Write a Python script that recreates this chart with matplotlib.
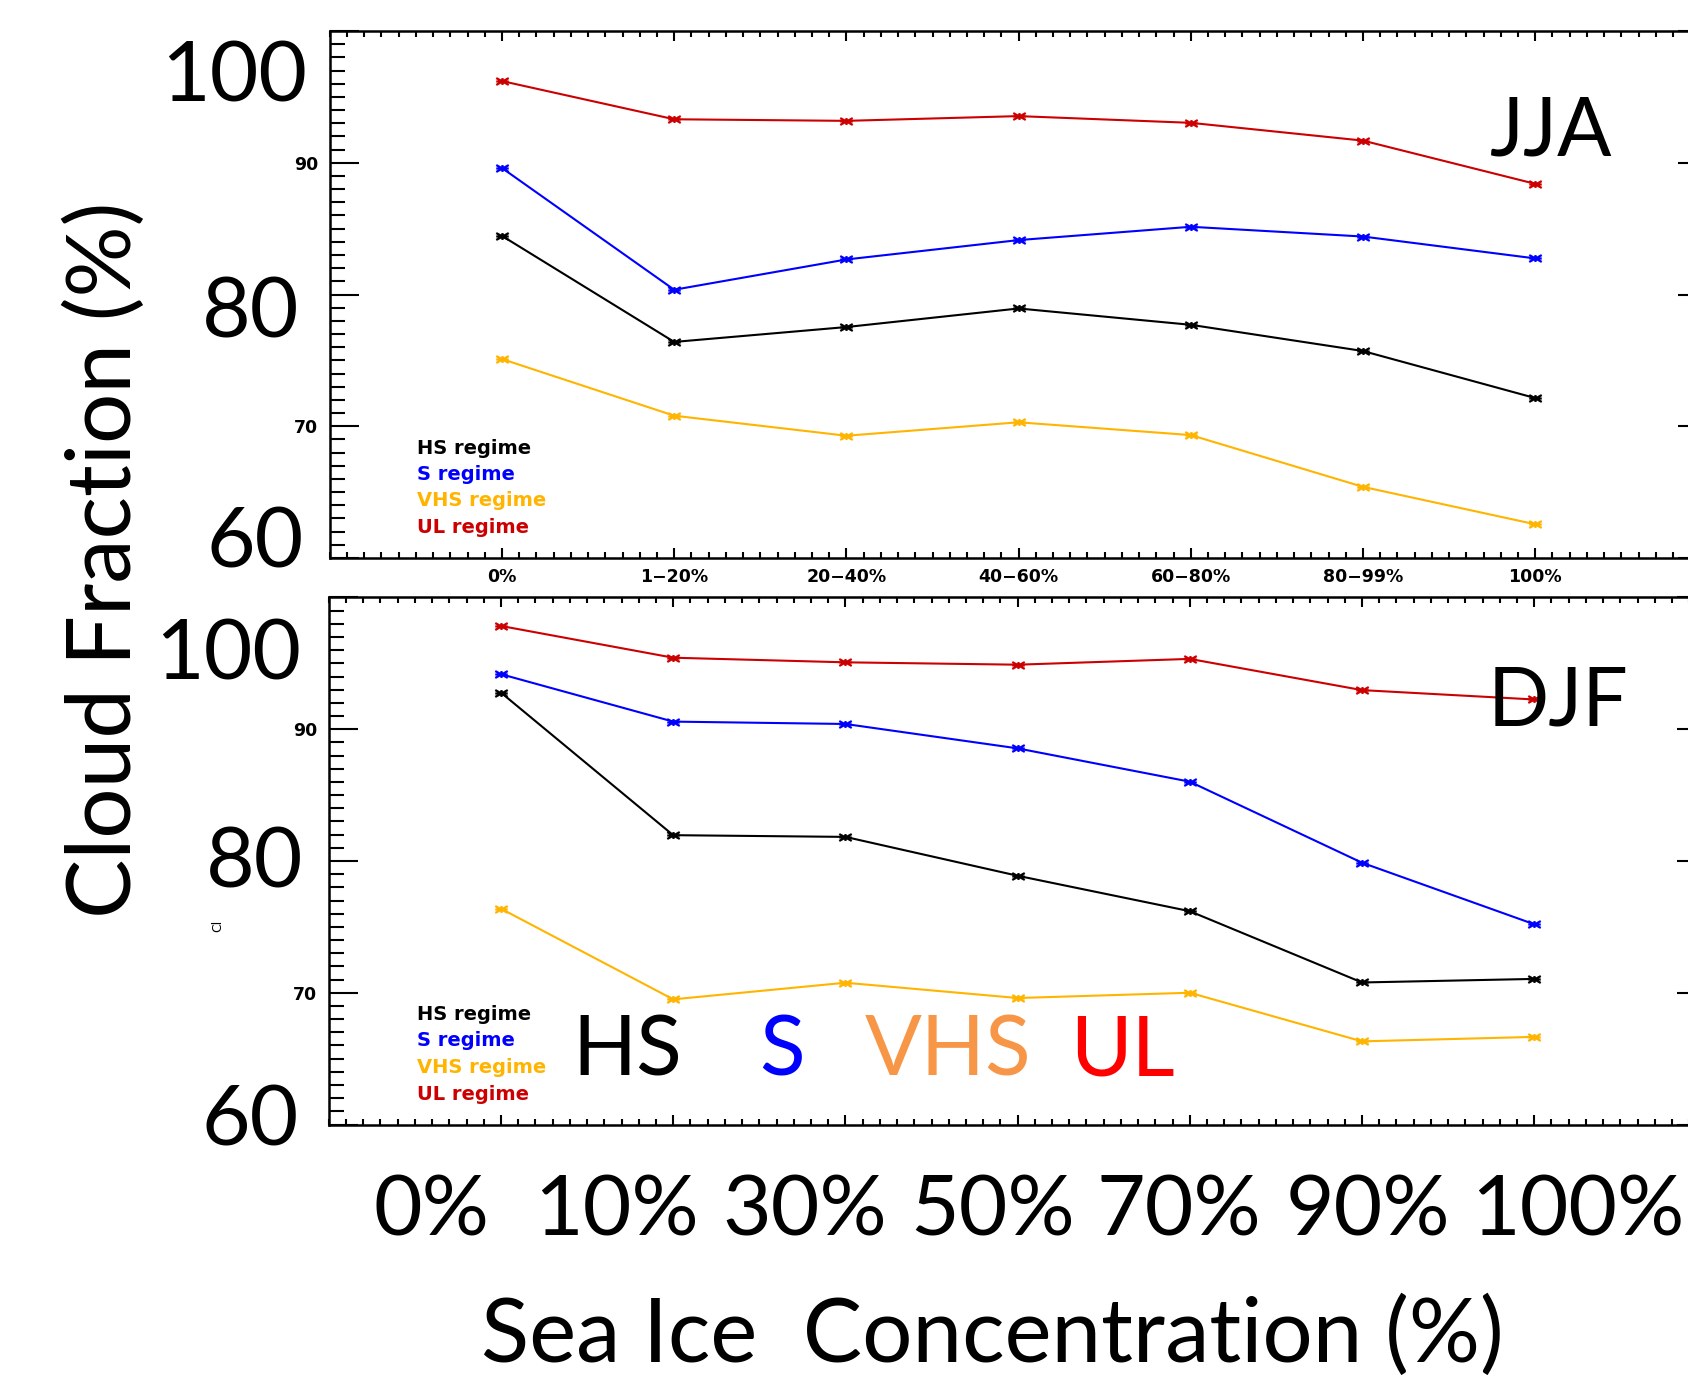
import matplotlib
matplotlib.use('Agg')
import matplotlib.pyplot as plt
from matplotlib.path import Path
from matplotlib.ticker import MultipleLocator, FixedLocator, FixedFormatter

# ---------------- data ----------------
categories = ['0%', '1−20%', '20−40%', '40−60%', '60−80%', '80−99%', '100%']
regimes = ['HS regime', 'S regime', 'VHS regime', 'UL regime']

jja_hs = [84.45, 76.4, 77.53, 78.94, 77.7, 75.71, 72.14]
jja_s = [89.6, 80.36, 82.66, 84.13, 85.14, 84.4, 82.74]
jja_vhs = [75.1, 70.8, 69.28, 70.3, 69.33, 65.4, 62.56]
jja_ul = [96.2, 93.3, 93.18, 93.54, 93.03, 91.68, 88.4]

djf_hs = [92.78, 81.96, 81.83, 78.88, 76.19, 70.78, 71.05]
djf_s = [94.18, 90.58, 90.4, 88.55, 86.02, 79.87, 75.2]
djf_vhs = [76.38, 69.5, 70.76, 69.6, 70.0, 66.31, 66.65]
djf_ul = [97.84, 95.43, 95.08, 94.9, 95.34, 92.97, 92.26]

y_major = [60, 70, 80, 90, 100]
y_major_labels = ['', '70', '', '90', '']
big_y_labels = ['100', '80', '60']
big_x_labels = ['0%', '10%', '30%', '50%', '70%', '90%', '100%']
overlay_words = ['HS', 'S', 'VHS', 'UL']

# ---------------- style ----------------
W, H = 1688, 1379
series_colors = ['#000000', '#0000FF', '#FFB400', '#CC0000']
overlay_colors = ['#000000', '#0000FF', '#F79646', '#FF0000']
BIG = ['Lato', 'DejaVu Sans']
SMALL = ['DejaVu Sans']

fig = plt.figure(figsize=(W / 100, H / 100), dpi=100)


def rect(l, t, r, b):
    return [l / W, 1 - b / H, (r - l) / W, (b - t) / H]


def fx(x):
    return x / W


def fy(y):
    return 1 - y / H


star = Path([(-1, 0), (1, 0), (-1, -0.55), (1, 0.55), (-1, 0.55), (1, -0.55), (0, -0.55), (0, 0.55)],
            [Path.MOVETO, Path.LINETO] * 4)

XL, XR = 329.8, 329.8 + 8 * 172.2
ax1 = fig.add_axes(rect(XL, 31, XR, 558))
ax2 = fig.add_axes(rect(XL - 1, 597.5, XR - 1, 1124.5))

panels = [(ax1, [jja_hs, jja_s, jja_vhs, jja_ul]), (ax2, [djf_hs, djf_s, djf_vhs, djf_ul])]
xs = list(range(len(categories)))
for ax, series in panels:
    for vals, c in zip(series, series_colors):
        ax.plot(xs, vals, color=c, lw=1.5, marker=star, markersize=9,
                markeredgewidth=1.6, markeredgecolor=c, markerfacecolor=c)
    ax.set_xlim(-1, 7)
    ax.set_ylim(60, 100)
    ax.xaxis.set_major_locator(FixedLocator(xs))
    ax.xaxis.set_minor_locator(MultipleLocator(0.1))
    ax.yaxis.set_major_locator(FixedLocator(y_major))
    ax.yaxis.set_major_formatter(FixedFormatter(y_major_labels))
    ax.yaxis.set_minor_locator(MultipleLocator(1))
    ax.tick_params(axis='x', which='major', direction='in', length=7.5, width=1.5,
                   top=True, bottom=True)
    ax.tick_params(axis='x', which='minor', direction='in', length=4.0, width=1.5,
                   top=True, bottom=True)
    ax.tick_params(axis='y', which='major', direction='in', length=21, width=1.5,
                   left=True, right=True, pad=8.5)
    ax.tick_params(axis='y', which='minor', direction='in', length=10.8, width=1.5,
                   left=True, right=True)
    for sp in ax.spines.values():
        sp.set_linewidth(1.8)
    for lab in ax.get_yticklabels():
        lab.set_fontfamily(SMALL)
        lab.set_fontsize(12.5)
        lab.set_fontweight('bold')

ax1.set_xticklabels(categories, fontfamily=SMALL, fontsize=12.5, fontweight='bold')
ax1.tick_params(axis='x', which='major', pad=7)
ax2.tick_params(axis='x', which='both', labelbottom=False)

# IDL legends
for base in (453.5, 1020):
    for i, (name, c) in enumerate(zip(regimes, series_colors)):
        fig.text(fx(417), fy(base + 26.5 * i), name, color=c, fontfamily=SMALL,
                 fontsize=14, fontweight='bold', ha='left', va='baseline')

# leftover fragment of the original y-title
fig.text(fx(218), fy(926), 'Cl', rotation=90, fontfamily=SMALL, fontsize=9,
         ha='center', va='center')

# overlay texts
big = 60.5
words = 64
fig.text(fx(106), fy(560), 'Cloud Fraction (%)', rotation=90, fontfamily=BIG,
         fontsize=words, ha='center', va='center')
for lab, x, yb in zip(big_y_labels, [307, 299, 304], [101, 337, 567]):
    fig.text(fx(x), fy(yb), lab, fontfamily=BIG, fontsize=big, ha='right', va='baseline')
for lab, x, yb in zip(big_y_labels, [301, 303, 299], [680, 888, 1146]):
    fig.text(fx(x), fy(yb), lab, fontfamily=BIG, fontsize=big, ha='right', va='baseline')

fig.text(fx(1490), fy(155), 'JJA', fontfamily=BIG, fontsize=58, ha='left', va='baseline')
fig.text(fx(1488), fy(725), 'DJF', fontfamily=BIG, fontsize=58, ha='left', va='baseline')

for w, c, x in zip(overlay_words, overlay_colors, [627, 782, 948, 1122]):
    fig.text(fx(x), fy(1076), w, color=c, fontfamily=BIG, fontsize=big,
             ha='center', va='baseline')

for lab, x in zip(big_x_labels, [431, 616, 805, 993, 1179, 1368, 1578]):
    fig.text(fx(x), fy(1236), lab, fontfamily=BIG, fontsize=big, ha='center', va='baseline')

fig.text(fx(992), fy(1362), 'Sea Ice  Concentration (%)', fontfamily=BIG, fontsize=words,
         ha='center', va='baseline')

fig.savefig('out.png', dpi=100)
